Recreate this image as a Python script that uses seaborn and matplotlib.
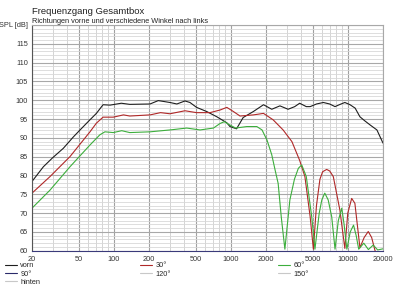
import pandas as pd
import matplotlib
matplotlib.use('Agg')
import matplotlib.pyplot as plt
from matplotlib.lines import Line2D
import seaborn as sns

# Frequenzgang readings (Hz / dB SPL)

vorn_f = [20, 25, 30, 37, 45, 51.5, 62.6, 71, 81, 93, 116, 137, 204, 240, 302,
          346, 406, 448, 510, 622, 760, 925, 984, 1120, 1276, 1560, 1904,
          2240, 2630, 3090, 3520, 3880, 4420, 4770, 5400, 6180, 7000, 7780,
          8600, 9440, 10460, 11560, 12700, 14000, 15560, 17740, 20000]
vorn_db = [78.4, 82.3, 84.7, 87.2, 90.2, 92.1, 94.8, 96.5, 98.8, 98.7, 99.2,
           98.9, 99.0, 99.9, 99.4, 99.0, 99.8, 99.4, 98.1, 97.0, 95.6, 94.0,
           93.0, 92.4, 95.4, 97.0, 98.8, 97.6, 98.5, 97.6, 98.3, 99.2, 98.3,
           98.3, 99.0, 99.4, 99.0, 98.3, 98.9, 99.4, 98.8, 97.9, 95.6, 94.5,
           93.4, 92.1, 88.6]

w30_f = [20, 28.5, 42.2, 62.6, 71, 81, 99, 121, 137, 204, 251, 302, 406, 510,
         664, 810, 925, 1052, 1200, 1560, 1904, 2300, 2800, 3330, 3880, 4300,
         4770, 5080, 5400, 5780, 6100, 6600, 7000, 7520, 8560, 9440, 10000,
         10800, 11500, 12700, 13800, 14960, 16000, 17100, 20000]
w30_db = [75.3, 79.7, 85.0, 91.6, 93.9, 95.5, 95.5, 96.1, 95.8, 96.1, 96.7,
          96.4, 97.2, 96.7, 96.7, 97.4, 98.1, 97.0, 95.8, 96.1, 96.5, 94.8,
          92.1, 89.0, 84.0, 79.7, 69.0, 60.4, 72.0, 79.0, 81.0, 81.6, 81.2,
          79.7, 70.8, 60.6, 70.0, 73.9, 72.6, 60.8, 63.5, 65.1, 63.5, 60.0,
          57.0]

w60_f = [20, 28.5, 42.2, 62.6, 76, 84, 99, 117, 137, 204, 302, 420, 546, 711,
         808, 880, 984, 1100, 1370, 1670, 1850, 2040, 2240, 2390, 2540, 2700,
         2900, 3200, 3500, 3780, 4040, 4420, 4920, 5240, 5700, 6000, 6360,
         6800, 7290, 7780, 8300, 8880, 9300, 9820, 10500, 11200, 11800,
         12400, 13700, 15000, 16500, 18000, 20000]
w60_db = [71.3, 76.1, 82.3, 88.1, 90.8, 91.6, 91.4, 91.9, 91.4, 91.6, 92.1,
          92.6, 92.1, 92.6, 93.8, 94.3, 93.4, 92.6, 93.0, 93.0, 92.1, 89.4,
          85.5, 81.5, 77.9, 69.0, 60.4, 73.5, 79.0, 81.9, 82.8, 79.7, 69.0,
          60.4, 70.0, 73.5, 75.3, 73.5, 69.0, 60.4, 68.0, 71.3, 67.0, 60.4,
          65.0, 66.8, 64.0, 60.4, 62.0, 60.3, 61.5, 60.2, 60.5]

x_ticks = [20, 50, 100, 200, 500, 1000, 2000, 5000, 10000, 20000]
x_labels = ['20', '50', '100', '200', '500', '1000', '2000', '5000', '10000', '20000']
y_ticks = list(range(60, 125, 5))
y_labels = [str(v) for v in range(60, 120, 5)] + ['SPL [dB]']

legend_cols = [[('vorn', '#1e1e1e'), ('90°', '#2a2a6a'), ('hinten', '#c8c8c8')],
               [('30°', '#b02828'), ('120°', '#c8c8c8')],
               [('60°', '#3cae3c'), ('150°', '#c8c8c8')]]

df = pd.concat([
    pd.DataFrame({'Hz': vorn_f, 'dB': vorn_db, 'Winkel': 'vorn'}),
    pd.DataFrame({'Hz': w30_f, 'dB': w30_db, 'Winkel': '30°'}),
    pd.DataFrame({'Hz': w60_f, 'dB': w60_db, 'Winkel': '60°'}),
])
pal = {'vorn': '#1e1e1e', '30°': '#b02828', '60°': '#3cae3c'}

sns.set_style('white')
plt.rcParams['font.family'] = ['Liberation Sans', 'DejaVu Sans']

fig = plt.figure(figsize=(4, 2.93), dpi=100)
ax = fig.add_axes([0.08, 0.1444, 0.8775, 0.7703])

# grid first so curves sit on top
ax.set_xscale('log')
ax.set_xlim(20, 20000)
ax.set_ylim(60, 120)
minor_x = [m * d for d in (10, 100, 1000, 10000) for m in range(1, 10)
           if 20 <= m * d <= 20000 and m * d not in x_ticks]
for f in minor_x:
    ax.axvline(f, color='#d4d4d4', lw=0.7, zorder=0)
for f in x_ticks:
    ax.axvline(f, color='#a0a0a0', lw=0.8, zorder=0)
for v in range(60, 121):
    ax.axhline(v, color='#a8a8a8' if v % 5 == 0 else '#d8d8d8',
               lw=0.8 if v % 5 == 0 else 0.6, zorder=0)

sns.lineplot(data=df, x='Hz', y='dB', hue='Winkel', palette=pal,
             estimator=None, sort=False, legend=False, lw=0.8, ax=ax)
ax.set_xscale('log')
ax.set_xlim(20, 20000)
ax.set_ylim(60, 120)

ax.set_xticks(x_ticks)
ax.set_xticklabels(x_labels)
ax.minorticks_off()
ax.set_yticks(y_ticks)
ax.set_yticklabels(y_labels)
ax.tick_params(labelsize=5.3, length=2, width=0.6, pad=1, colors='#333333')
ax.tick_params(axis='x', pad=2)
ax.set_xlabel('')
ax.set_ylabel('')
for s in ['top', 'right']:
    ax.spines[s].set_color('#a8a8a8')
    ax.spines[s].set_linewidth(0.8)
ax.spines['left'].set_color('#555555')
ax.spines['bottom'].set_color('#3a3a7a')
for s in ['left', 'bottom']:
    ax.spines[s].set_linewidth(0.8)

fig.text(0.08, 0.975, 'Frequenzgang Gesamtbox', fontsize=6.8, va='top', color='#222222')
fig.text(0.08, 0.94, 'Richtungen vorne und verschiedene Winkel nach links',
         fontsize=5.3, va='top', color='#222222')

# legend in three columns below the plot
for x0, col in zip([0.012, 0.35, 0.695], legend_cols):
    handles = [Line2D([], [], color=c, lw=0.8) for _, c in col]
    fig.legend(handles, [n for n, _ in col], loc='upper left',
               bbox_to_anchor=(x0, 0.105), frameon=False, fontsize=5.3,
               handlelength=1.6, handletextpad=0.5, labelspacing=0.15,
               borderaxespad=0, borderpad=0)

fig.savefig('out.png', dpi=100)
